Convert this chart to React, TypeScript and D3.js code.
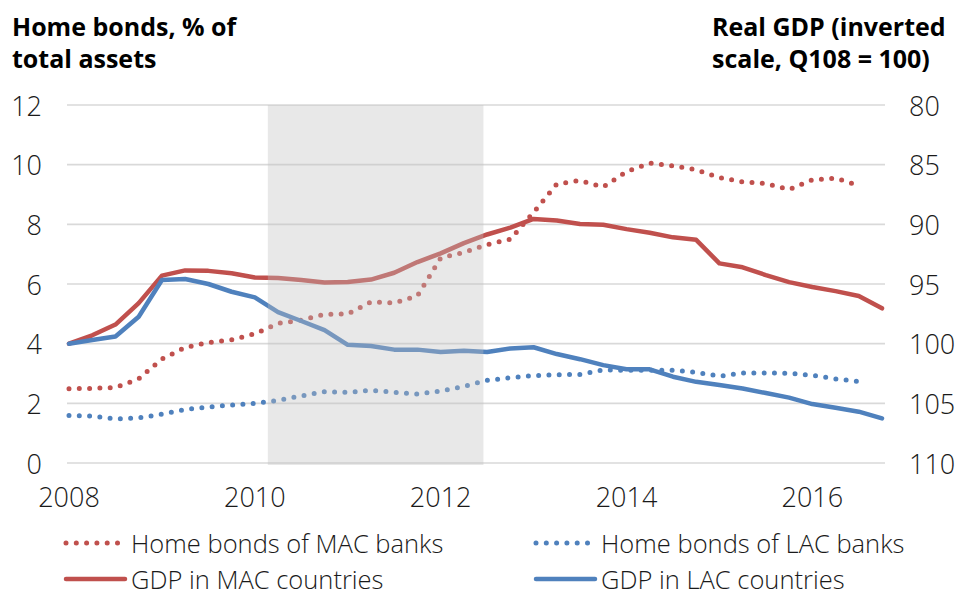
import * as d3 from "d3";
import React from "react";

// quarterly, 2008Q1 .. 2016Q4
const quarters = d3.range(36).map((i) => 2008 + i / 4);

// Real GDP, Q108 = 100 (right axis, inverted)
const gdpMac = [
  100, 99.3, 98.4, 96.6, 94.3, 93.86, 93.9, 94.1, 94.45, 94.5, 94.67, 94.88,
  94.84, 94.63, 94.06, 93.16, 92.43, 91.57, 90.85, 90.27, 89.55, 89.68, 89.97,
  90.03, 90.4, 90.7, 91.09, 91.3, 93.27, 93.6, 94.25, 94.84, 95.25, 95.6, 96.0,
  97.04,
];
const gdpLac = [
  100, 99.7, 99.4, 97.74, 94.67, 94.58, 95.0, 95.65, 96.12, 97.35, 98.1, 98.86,
  100.1, 100.2, 100.5, 100.5, 100.7, 100.6, 100.7, 100.4, 100.3, 100.87, 101.3,
  101.8, 102.15, 102.15, 102.77, 103.2, 103.47, 103.76, 104.14, 104.52, 105.06,
  105.37, 105.7, 106.26,
];

// Home bonds, % of total assets (left axis), 2008Q1 .. 2016Q3
const bondsMac = [
  2.49, 2.5, 2.53, 2.82, 3.49, 3.87, 4.04, 4.13, 4.33, 4.68, 4.79, 4.98, 5.0,
  5.4, 5.36, 5.6, 6.87, 7.06, 7.32, 7.5, 8.4, 9.35, 9.47, 9.25, 9.77, 10.05,
  9.96, 9.83, 9.57, 9.42, 9.37, 9.17, 9.49, 9.55, 9.3,
];
const bondsLac = [
  1.59, 1.57, 1.48, 1.51, 1.64, 1.79, 1.88, 1.94, 2.0, 2.1, 2.25, 2.39, 2.37,
  2.44, 2.37, 2.31, 2.41, 2.57, 2.77, 2.86, 2.93, 2.96, 2.97, 3.12, 3.11, 3.11,
  3.11, 3.04, 2.91, 3.02, 3.02, 3.01, 2.94, 2.82, 2.73,
];

const leftTicks = [0, 2, 4, 6, 8, 10, 12];
const rightTicks = [80, 85, 90, 95, 100, 105, 110];
const yearTicks = [2008, 2010, 2012, 2014, 2016];
const crisis = [2010.14, 2012.46];

const RED = "#C0504D";
const BLUE = "#4F81BD";
const FONT = "'Open Sans', 'Liberation Sans', sans-serif";
const DOTS = "0 10.3";

const legendItems = [
  { label: "Home bonds of MAC banks", color: RED, dotted: true },
  { label: "Home bonds of LAC banks", color: BLUE, dotted: true },
  { label: "GDP in MAC countries", color: RED, dotted: false },
  { label: "GDP in LAC countries", color: BLUE, dotted: false },
];

export default function App() {
  const x = d3.scaleLinear().domain([2008, 2016.75]).range([69, 882]);
  const yL = d3.scaleLinear().domain([0, 12]).range([463, 105]);
  const yR = d3.scaleLinear().domain([80, 110]).range([105, 463]);

  const lineLeft = d3
    .line<number>()
    .x((_, i) => x(quarters[i]))
    .y((d) => yL(d));
  const lineRight = d3
    .line<number>()
    .x((_, i) => x(quarters[i]))
    .y((d) => yR(d));

  const series = [
    { d: lineLeft(bondsMac), color: RED, dotted: true },
    { d: lineLeft(bondsLac), color: BLUE, dotted: true },
    { d: lineRight(gdpMac), color: RED, dotted: false },
    { d: lineRight(gdpLac), color: BLUE, dotted: false },
  ];

  const legendX = d3.scalePoint<number>().domain([0, 1]).range([65, 535]);
  const legendY = d3.scalePoint<number>().domain([0, 1]).range([543, 579]);

  return (
    <svg
      width={963}
      height={596}
      style={{ position: "absolute", left: 0, top: 0, background: "#fff" }}
      fontFamily={FONT}
    >
      {/* titles */}
      <g fontWeight={700} fontSize={25} fill="#000">
        <text x={12} y={36}>Home bonds, % of</text>
        <text x={12} y={68}>total assets</text>
        <text x={712} y={36}>Real GDP (inverted</text>
        <text x={712} y={68}>scale, Q108 = 100)</text>
      </g>

      {/* gridlines */}
      {leftTicks.map((t) => (
        <line
          key={t}
          x1={67}
          x2={885}
          y1={yL(t)}
          y2={yL(t)}
          stroke="#d9d9d9"
          strokeWidth={1.6}
        />
      ))}

      {/* series */}
      {series.map((s, i) => (
        <path
          key={i}
          d={s.d || ""}
          fill="none"
          stroke={s.color}
          strokeWidth={s.dotted ? 5 : 4.5}
          strokeLinecap="round"
          strokeLinejoin="round"
          strokeDasharray={s.dotted ? DOTS : undefined}
        />
      ))}

      {/* shaded period, drawn over the lines */}
      <rect
        x={x(crisis[0])}
        y={yL(12)}
        width={x(crisis[1]) - x(crisis[0])}
        height={yL(0) - yL(12) + 2}
        fill="#bfbfbf"
        fillOpacity={0.36}
      />

      {/* axes labels */}
      <g fontSize={27} fontWeight={300} fill="#1a1a1a">
        {leftTicks.map((t) => (
          <text key={t} x={42} y={yL(t)} textAnchor="end" dominantBaseline="central">
            {t}
          </text>
        ))}
        {rightTicks.map((t) => (
          <text key={t} x={909} y={yR(t)} dominantBaseline="central">
            {t}
          </text>
        ))}
        {yearTicks.map((t) => (
          <text key={t} x={x(t)} y={507} textAnchor="middle">
            {t}
          </text>
        ))}
      </g>

      {/* legend */}
      <g fontSize={25.5} fontWeight={300} fill="#1a1a1a">
        {legendItems.map((it, i) => {
          const lx = legendX(i % 2) as number;
          const ly = legendY(Math.floor(i / 2)) as number;
          return (
            <g key={it.label}>
              <line
                x1={lx + 1}
                x2={it.dotted ? lx + 55 : lx + 60}
                y1={ly}
                y2={ly}
                stroke={it.color}
                strokeWidth={it.dotted ? 5 : 4.5}
                strokeLinecap="round"
                strokeDasharray={it.dotted ? DOTS : undefined}
              />
              <text x={lx + 66} y={ly} dominantBaseline="central">
                {it.label}
              </text>
            </g>
          );
        })}
      </g>
    </svg>
  );
}
